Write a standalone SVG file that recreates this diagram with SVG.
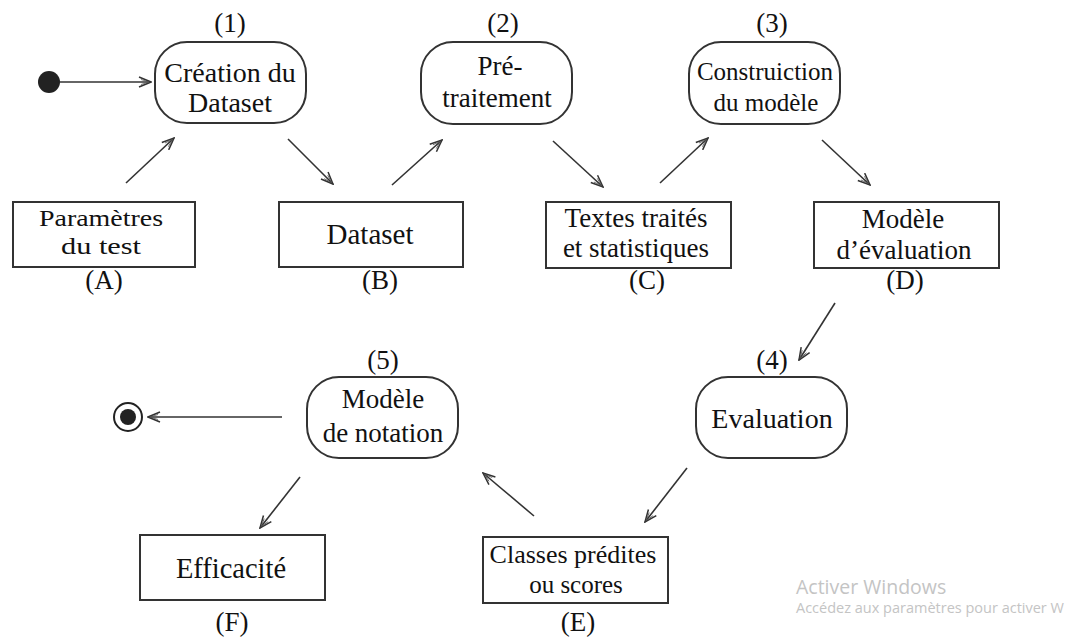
<svg xmlns="http://www.w3.org/2000/svg" width="1068" height="639" viewBox="0 0 1068 639">
<style>
.t{font-family:"Liberation Serif","Times New Roman",serif;font-size:27px;fill:#111;text-anchor:middle}
.st{fill:#fff;stroke:#333;stroke-width:2}
.bx{fill:#fff;stroke:#333;stroke-width:2}
.c{fill:none;stroke:#333;stroke-width:1.6}
.wm{font-family:"Open Sans","Noto Sans",sans-serif;fill:#c4c4c4}
</style>
<defs>
<marker id="ah" viewBox="0 0 14 12" refX="13" refY="6" markerWidth="14" markerHeight="12" markerUnits="userSpaceOnUse" orient="auto">
<path d="M1,1 L13,6 L1,11" fill="none" stroke="#333" stroke-width="1.5"/>
<path d="M3,3.5 L11,6 L3,8.5" fill="none" stroke="#555" stroke-width="0.8"/>
</marker>
</defs>
<rect width="1068" height="639" fill="#fff"/>

<g id="connectors">
<line class="c" x1="60" y1="82" x2="151" y2="82" marker-end="url(#ah)"/>
<line class="c" x1="126" y1="183" x2="174" y2="138" marker-end="url(#ah)"/>
<line class="c" x1="288" y1="139" x2="333" y2="184" marker-end="url(#ah)"/>
<line class="c" x1="392" y1="185" x2="442" y2="140" marker-end="url(#ah)"/>
<line class="c" x1="553" y1="141" x2="603" y2="187" marker-end="url(#ah)"/>
<line class="c" x1="660" y1="183" x2="708" y2="138" marker-end="url(#ah)"/>
<line class="c" x1="822" y1="140" x2="870" y2="185" marker-end="url(#ah)"/>
<line class="c" x1="835" y1="303" x2="799" y2="360" marker-end="url(#ah)"/>
<line class="c" x1="687" y1="468" x2="645" y2="522" marker-end="url(#ah)"/>
<line class="c" x1="534" y1="516" x2="483" y2="473" marker-end="url(#ah)"/>
<line class="c" x1="300" y1="477" x2="260" y2="528" marker-end="url(#ah)"/>
<line class="c" x1="282" y1="417" x2="148" y2="417" marker-end="url(#ah)"/>
</g>

<g id="start"><circle cx="49" cy="82" r="11" fill="#222"/></g>
<g id="end"><circle cx="128" cy="417" r="14" fill="#fff" stroke="#222" stroke-width="2"/><circle cx="128" cy="417" r="8" fill="#222"/></g>

<g id="n1">
<text class="t" x="230" y="32">(1)</text>
<rect class="st" x="155" y="42" width="151" height="81" rx="32" ry="32"/>
<text class="t" x="230" y="82" style="font-size:28px">Création du</text>
<text class="t" x="230" y="112" style="font-size:28px">Dataset</text>
</g>

<g id="n2">
<text class="t" x="503" y="32">(2)</text>
<rect class="st" x="421" y="42" width="151" height="82" rx="32" ry="32"/>
<text class="t" x="500" y="75">Pré-</text>
<text class="t" x="497" y="107">traitement</text>
</g>

<g id="n3">
<text class="t" x="772" y="32">(3)</text>
<rect class="st" x="689" y="42" width="151" height="82" rx="32" ry="32"/>
<text class="t" x="765" y="80" style="font-size:25px">Construiction</text>
<text class="t" x="766" y="111" style="font-size:25px">du modèle</text>
</g>

<g id="nA">
<rect class="bx" x="13" y="202" width="182" height="65"/>
<text class="t" x="101" y="226" style="font-size:24px" textLength="124" lengthAdjust="spacingAndGlyphs">Paramètres</text>
<text class="t" x="101" y="254" style="font-size:24px" textLength="80" lengthAdjust="spacingAndGlyphs">du test</text>
<text class="t" x="104" y="289">(A)</text>
</g>

<g id="nB">
<rect class="bx" x="279" y="202" width="184" height="65"/>
<text class="t" x="370" y="244" style="font-size:29px">Dataset</text>
<text class="t" x="380" y="289">(B)</text>
</g>

<g id="nC">
<rect class="bx" x="546" y="202" width="185" height="66"/>
<text class="t" x="636" y="227">Textes traités</text>
<text class="t" x="636" y="257">et statistiques</text>
<text class="t" x="647" y="289">(C)</text>
</g>

<g id="nD">
<rect class="bx" x="814" y="202" width="185" height="66"/>
<text class="t" x="903" y="228">Modèle</text>
<text class="t" x="904" y="259">d’évaluation</text>
<text class="t" x="905" y="289">(D)</text>
</g>

<g id="n4">
<text class="t" x="772" y="369">(4)</text>
<rect class="st" x="696" y="377" width="151" height="81" rx="32" ry="32"/>
<text class="t" x="772" y="428" style="font-size:28px">Evaluation</text>
</g>

<g id="n5">
<text class="t" x="383" y="369">(5)</text>
<rect class="st" x="307" y="377" width="151" height="81" rx="32" ry="32"/>
<text class="t" x="383" y="408">Modèle</text>
<text class="t" x="383" y="442">de notation</text>
</g>

<g id="nE">
<rect class="bx" x="483" y="537" width="185" height="66"/>
<text class="t" x="573" y="563" style="font-size:26px">Classes prédites</text>
<text class="t" x="576" y="593" style="font-size:25px">ou scores</text>
<text class="t" x="578" y="631">(E)</text>
</g>

<g id="nF">
<rect class="bx" x="140" y="535" width="185" height="65"/>
<text class="t" x="231" y="578" style="font-size:28.5px">Efficacité</text>
<text class="t" x="232" y="631">(F)</text>
</g>

<g id="watermark">
<text class="wm" x="796" y="594" style="font-size:19.5px">Activer Windows</text>
<text class="wm" x="796" y="613" style="font-size:14.5px">Accédez aux paramètres pour activer W</text>
</g>
</svg>
